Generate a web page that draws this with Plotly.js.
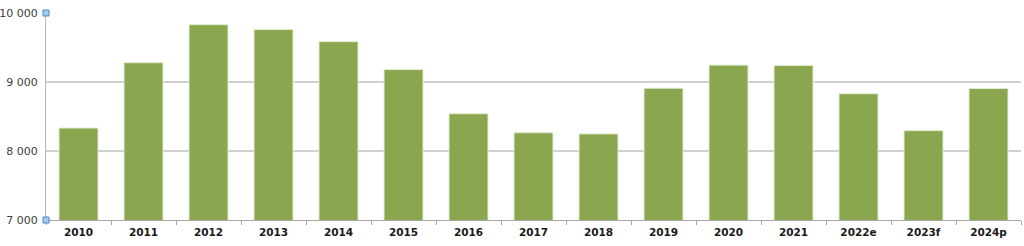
<!DOCTYPE html>
<html>
<head>
<meta charset="utf-8">
<script src="https://cdn.plot.ly/plotly-3.0.1.min.js"></script>
<style>html,body{margin:0;padding:0;background:#fff;}#chart{width:1024px;height:246px;}</style>
</head>
<body>
<div id="chart"></div>
<script>
const categories = ["2010","2011","2012","2013","2014","2015","2016","2017","2018","2019","2020","2021","2022e","2023f","2024p"];
const values = [8333, 9280, 9830, 9760, 9585, 9180, 8540, 8265, 8248, 8910, 9245, 9240, 8830, 8295, 8905];
const yTickVals = [7000, 8000, 9000, 10000];
const yTickText = ["7 000", "8 000", "9 000", "10 000"];

const trace = {
  type: "bar",
  x: categories,
  y: values,
  marker: {color: "#8aa64f", line: {color: "#e2ebd2", width: 1}},
  hoverinfo: "none"
};

const handles = [0, 1].map(p => ({
  type: "rect", xref: "paper", yref: "paper", xsizemode: "pixel", ysizemode: "pixel",
  xanchor: 0, yanchor: p, x0: -3, x1: 3, y0: -3, y1: 3,
  fillcolor: "#a9cbee", line: {color: "#4a86c5", width: 1}, layer: "above"
}));

const layout = {
  width: 1024, height: 246,
  margin: {l: 46, r: 3, t: 13, b: 26, pad: 0},
  paper_bgcolor: "#ffffff", plot_bgcolor: "#ffffff",
  bargap: 0.4,
  showlegend: false,
  font: {family: "DejaVu Sans, Verdana, sans-serif", color: "#333333"},
  xaxis: {
    type: "category",
    tickson: "boundaries",
    ticks: "outside", ticklen: 4, tickcolor: "#a8a8a8", tickwidth: 1,
    showgrid: false,
    showline: true, linecolor: "#a8a8a8", linewidth: 1,
    tickfont: {family: "DejaVu Sans, Verdana, sans-serif", size: 10.5, color: "#1a1a1a", weight: "bold"},
    ticklabelstandoff: 2,
    fixedrange: true
  },
  yaxis: {
    range: [7000, 10000],
    tickvals: yTickVals, ticktext: yTickText,
    ticks: "", showline: true, linecolor: "#b8b8b8", linewidth: 1,
    showgrid: true, gridcolor: "#d0d0d0", gridwidth: 1.5,
    zeroline: false,
    tickfont: {family: "DejaVu Sans, Verdana, sans-serif", size: 11, color: "#404040"},
    ticklabelstandoff: 5,
    fixedrange: true
  },
  shapes: handles
};

Plotly.newPlot("chart", [trace], layout, {displayModeBar: false, staticPlot: true});
</script>
</body>
</html>
